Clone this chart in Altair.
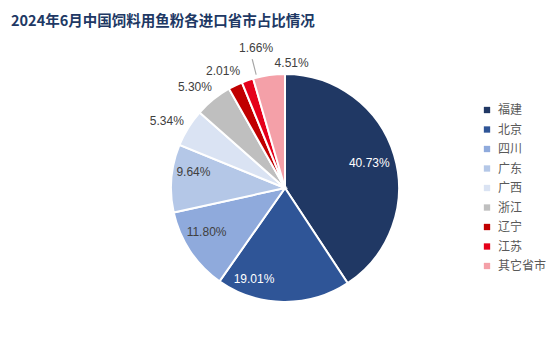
import altair as alt
import pandas as pd

# ---- data ----
categories = ["福建", "北京", "四川", "广东", "广西", "浙江", "辽宁", "江苏", "其它省市"]
shares = [40.73, 19.01, 11.80, 9.64, 5.34, 5.30, 2.01, 1.66, 4.51]

# ---- style / label placement ----
colors = ["#203864", "#2f5597", "#8faadc", "#b4c7e7", "#dae3f3",
          "#bfbfbf", "#c00000", "#e5001a", "#f4a0a8"]
label_radius = [88, 96, 90, 93, 136, 135, 132, 143, 125]
label_nudge = [0, 5.0, 1.2, 1.4, -0.6, -0.8, -0.6, 2.1, 3.1]   # in % of the circle
label_group = ["in_white", "in_white", "in_dark", "in_dark",
               "out", "out", "out", "out", "out"]

df = pd.DataFrame({
    "cat": categories,
    "value": shares,
    "idx": list(range(len(categories))),
    "lr": label_radius,
    "nudge": label_nudge,
    "grp": label_group,
})

CX, CY = 277, 150
theta_scale = alt.Scale(domain=[0, 100])

base = alt.Chart(df)

pie = base.mark_arc(outerRadius=114, stroke="white", strokeWidth=2).encode(
    theta=alt.Theta("value:Q", stack=True, scale=theta_scale),
    order=alt.Order("idx:Q"),
    color=alt.Color(
        "cat:N",
        scale=alt.Scale(domain=categories, range=colors),
        sort=categories,
        legend=alt.Legend(
            title=None, orient="none", legendX=473, legendY=66,
            symbolType="square", symbolSize=40, symbolStrokeWidth=0,
            labelFontSize=12, labelColor="#595959", labelFont="Noto Sans CJK SC",
            rowPadding=7.5, labelOffset=5,
        ),
    ),
    x=alt.value(CX),
    y=alt.value(CY),
)

label_base = base.transform_window(
    cum="sum(value)", sort=[alt.SortField("idx")], frame=[None, 0]
).transform_calculate(
    at="datum.cum - datum.value / 2 + datum.nudge",
    txt="format(datum.value, '.2f') + '%'",
)


def text_layer(group, color):
    return label_base.transform_filter(alt.datum.grp == group).mark_text(
        font="Liberation Sans", fontSize=12, color=color
    ).encode(
        theta=alt.Theta("at:Q", stack=None, scale=theta_scale),
        radius=alt.Radius("lr:Q", scale=None),
        text="txt:N",
        x=alt.value(CX),
        y=alt.value(CY),
    )


labels_white = text_layer("in_white", "white")
labels_dark = text_layer("in_dark", "#404040")
labels_out = text_layer("out", "#404040")

leader = label_base.transform_filter(alt.datum.cat == "江苏").transform_calculate(
    a="datum.at - 0.8", b="datum.at - 0.65"
).mark_arc(radius=117, radius2=133, color="#a6a6a6").encode(
    theta=alt.Theta("a:Q", stack=None, scale=theta_scale),
    theta2="b:Q",
    x=alt.value(CX),
    y=alt.value(CY),
)

chart = alt.layer(pie, leader, labels_white, labels_dark, labels_out).properties(
    width=538,
    height=316,
    autosize=alt.AutoSizeParams(type="none"),
    padding={"left": 0, "top": 30, "right": 0, "bottom": 0},
    background="white",
    title=alt.Title(
        "2024年6月中国饲料用鱼粉各进口省市占比情况",
        anchor="start", frame="group", orient="top",
        font="Noto Sans CJK SC", fontSize=14.5, fontWeight="bold",
        color="#203864", baseline="alphabetic", offset=14, dx=3, dy=16,
    ),
).configure_view(stroke=None)

chart.save("out.html", embed_options={"renderer": "svg", "actions": False})
